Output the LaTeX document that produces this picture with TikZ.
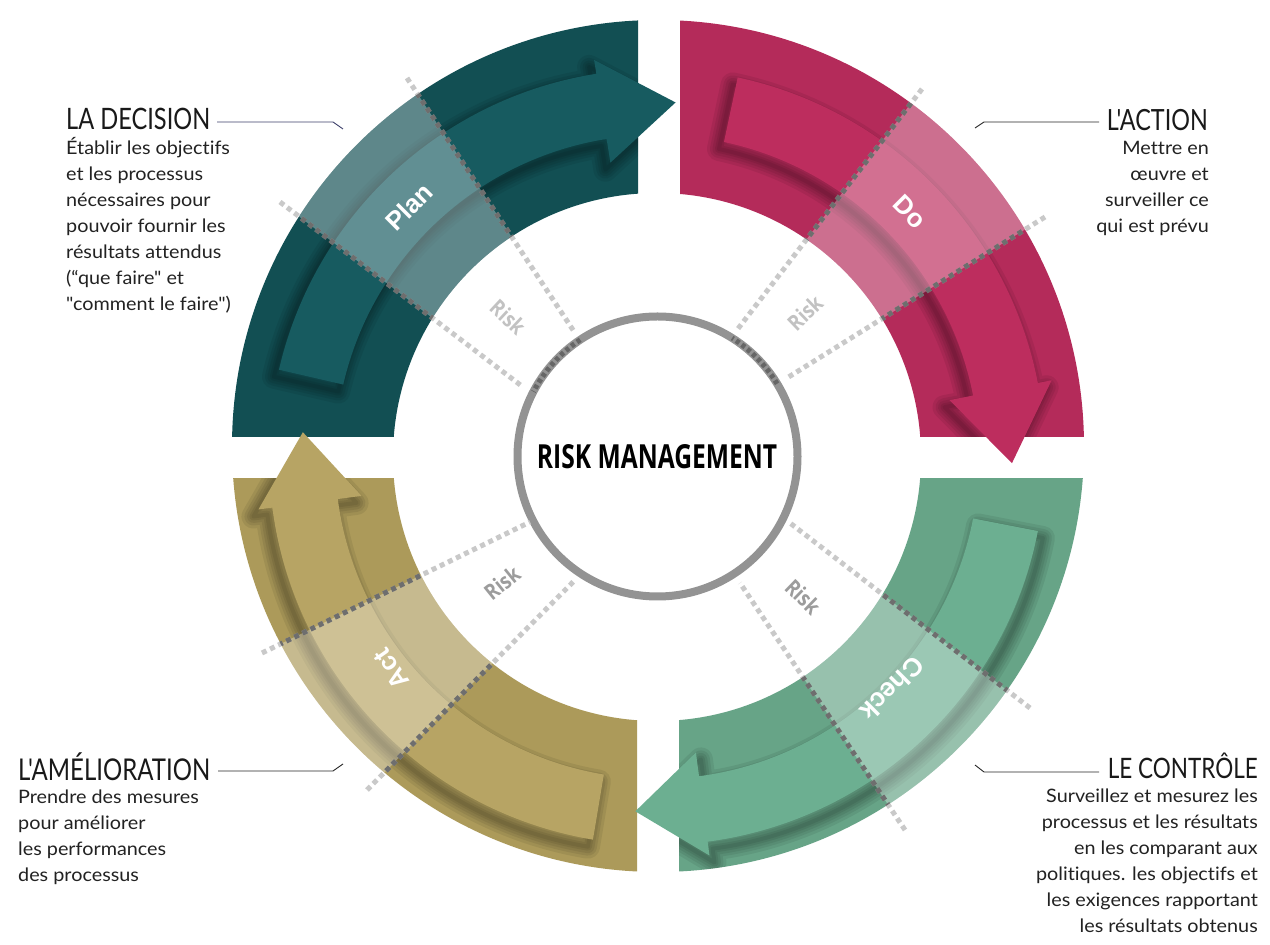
\documentclass[tikz,border=0pt]{standalone}
\usepackage{fontspec}
\usepackage{graphicx}
\setmainfont[Ligatures={TeXOff,NoCommon}]{Lato}
\newfontfamily\bodyfont[Ligatures={TeXOff,NoCommon},FakeStretch=1.07]{Lato}
\newfontfamily\headfont[FakeStretch=0.8,Ligatures={TeXOff,NoCommon}]{Lato}
\newfontfamily\riskfont[FakeStretch=0.85]{Open Sans}
\newfontfamily\labfont{Liberation Sans}
\newfontfamily\centerfont{Open Sans}

\definecolor{planring}{HTML}{124F53}
\definecolor{planarrow}{HTML}{175B60}
\definecolor{doring}{HTML}{B42B5A}
\definecolor{doarrow}{HTML}{BD2D5E}
\definecolor{checkring}{HTML}{67A487}
\definecolor{checkarrow}{HTML}{6CAF91}
\definecolor{actring}{HTML}{AC9A5A}
\definecolor{actarrow}{HTML}{B7A464}
\definecolor{dotgray}{HTML}{C9C9C9}
\definecolor{circgray}{HTML}{939393}
\definecolor{risktop}{HTML}{C2C2C2}
\definecolor{riskbot}{HTML}{9C9C9C}
\definecolor{bodytext}{HTML}{222222}
\definecolor{navyline}{HTML}{3C3F6A}

% annulus: outer circle counter-clockwise, inner circle clockwise (nonzero rule)
\newcommand\ringpath{(1084,499) arc[start angle=0, end angle=360, radius=426] (921,488) arc[start angle=360, end angle=0, radius=264]}
\newcommand\arrowshape[3]{(#1:388) arc[start angle=#1, end angle=#2, radius=388] -- (#2:402) -- (#3:355) -- (#2:298) -- (#2:322) arc[start angle=#2, end angle=#1, radius=322] -- cycle}
\newcommand\ringfill[2]{\begin{scope}\clip #1; \fill[#2] \ringpath; \end{scope}}
\newcommand\arrowshadow[5]{\begin{scope}\clip #1; \clip \ringpath;
  \begin{scope}[shift={#5}]
   \foreach \w in {24,18,13,8,4}{\draw[black, opacity=0.07, line width=\w pt, line join=round] \arrowshape{#2}{#3}{#4};}
  \end{scope}\end{scope}}
\newcommand\arrowfill[4]{\begin{scope}[shift={(657,488)}]\fill[#1] \arrowshape{#2}{#3}{#4};\end{scope}}
\newcommand\bandfill[2]{\begin{scope}\clip #1; \clip #2; \fill[white, opacity=0.32] \ringpath; \end{scope}}
\newcommand\linesL[1]{\vtop{\baselineskip=26pt \halign{##\hfil\cr #1\crcr}}}
\newcommand\linesR[1]{\vtop{\baselineskip=26pt \halign{\hfil##\cr #1\crcr}}}

\tikzset{
  riskline/.style={draw=dotgray, line width=5pt, dash pattern=on 5pt off 4pt},
  riskdark/.style={draw=black, opacity=0.45, line width=5pt, dash pattern=on 5pt off 4pt},
  phaselabel/.style={text=white, font=\labfont\bfseries\fontsize{26}{26}\selectfont, inner sep=0pt},
  risklabel/.style={font=\riskfont\bfseries\fontsize{22}{22}\selectfont, inner sep=0pt},
  heading/.style={font=\headfont\fontsize{30}{30}\selectfont, text=black!90, inner sep=0pt},
  bodyblock/.style={font=\bodyfont\fontsize{18.5}{26}\selectfont, text=bodytext, inner sep=0pt},
  leader/.style={draw=black!85, line width=0.9pt},
}

\begin{document}
\begin{tikzpicture}[x=1pt,y=1pt]
\useasboundingbox[fill=white] (0,0) rectangle (1270,945);

% rings
\ringfill{(0,508) rectangle (638,945)}{planring}
\ringfill{(680,508) rectangle (1270,945)}{doring}
\ringfill{(679,0) rectangle (1270,466)}{checkring}
\ringfill{(0,0) rectangle (637,466)}{actring}

% arrow shadows
\arrowshadow{(0,508) rectangle (638,945)}{167}{99}{87}{(652,481)}
\arrowshadow{(680,508) rectangle (1270,945)}{78}{11}{-1}{(652,481)}
\arrowshadow{(679,0) rectangle (1270,466)}{-11}{-82.5}{-93.5}{(662,481)}
\arrowshadow{(0,0) rectangle (637,466)}{260.5}{187.5}{176}{(652,481)}

% arrows
\arrowfill{planarrow}{167}{99}{87}
\arrowfill{doarrow}{78}{11}{-1}
\arrowfill{checkarrow}{-11}{-82.5}{-93.5}
\arrowfill{actarrow}{260.5}{187.5}{176}

% light bands
\bandfill{(0,508) rectangle (638,945)}{(407,867)--(575,612)--(523,558)--(280,743)--cycle}
\bandfill{(680,508) rectangle (1270,945)}{(922,856)--(737,615)--(787,567)--(1045,728)--cycle}
\bandfill{(679,0) rectangle (1270,466)}{(790,422)--(1030,237)--(905,115)--(740,362)--cycle}
\bandfill{(0,0) rectangle (637,466)}{(262,292)--(530,423)--(575,365)--(367,155)--cycle}

% centre circle
\coordinate (C) at (657.5,488.5);
\draw[circgray, line width=8pt] (C) circle[radius=140];

% risk lines
\coordinate (p1a) at (407,867); \coordinate (p1b) at (575,612);
\coordinate (p2a) at (280,743); \coordinate (p2b) at (523,558);
\coordinate (d1a) at (922,856); \coordinate (d1b) at (737,615);
\coordinate (d2a) at (1045,728); \coordinate (d2b) at (787,567);
\coordinate (c1a) at (1030,237); \coordinate (c1b) at (790,422);
\coordinate (c2a) at (905,115); \coordinate (c2b) at (740,362);
\coordinate (a1a) at (262,292); \coordinate (a1b) at (530,423);
\coordinate (a2a) at (367,155); \coordinate (a2b) at (575,365);
\foreach \s/\e in {p1a/p1b,p2a/p2b,d1a/d1b,d2a/d2b,c1a/c1b,c2a/c2b,a1a/a1b,a2a/a2b}
  \draw[riskline] (\s) -- (\e);
\begin{scope}
  \clip \ringpath;
  \foreach \s/\e in {p1a/p1b,p2a/p2b,d1a/d1b,d2a/d2b,c1a/c1b,c2a/c2b,a1a/a1b,a2a/a2b}
    \draw[riskdark] (\s) -- (\e);
\end{scope}
\draw[black, opacity=0.3, line width=5pt, dash pattern=on 4pt off 3pt] ([shift={(123.5:140)}]C) arc[start angle=123.5, end angle=152.4, radius=140];
\draw[black, opacity=0.3, line width=5pt, dash pattern=on 4pt off 3pt] ([shift={(31.3:140)}]C) arc[start angle=31.3, end angle=57.8, radius=140];

% centre title
\node[anchor=base, inner sep=0pt] (title) at (657,476) {\resizebox{240pt}{24pt}{\centerfont\bfseries RISK MANAGEMENT}};

% phase labels
\node[phaselabel, rotate=45] (lplan) at (409,738) {Plan};
\node[phaselabel, rotate=-45] (ldo) at (910,733) {Do};
\node[phaselabel, rotate=-135] (lcheck) at (892,256) {Check};
\node[phaselabel, rotate=125] (lact) at (391,276) {Act};

% risk labels
\node[risklabel, text=risktop, rotate=-43] (rplan) at (508,628) {Risk};
\node[risklabel, text=risktop, rotate=44] (rdo) at (805,632) {Risk};
\node[risklabel, text=riskbot, rotate=-44] (rcheck) at (803,348) {Risk};
\node[risklabel, text=riskbot, rotate=39] (ract) at (502,362) {Risk};

% headings
\node[heading, anchor=base west] (hdec) at (66,815) {\resizebox{144pt}{!}{LA DECISION}};
\node[heading, anchor=base east] (hact) at (1208,814) {\resizebox{101pt}{!}{L'ACTION}};
\node[heading, anchor=base west] (hame) at (18,164) {\resizebox{192pt}{!}{L'AMÉLIORATION}};
\node[heading, anchor=base east] (hcon) at (1258,166) {\resizebox{150pt}{!}{LE CONTRÔLE}};

% bodies
\node[bodyblock, anchor=base west] (bdec) at (66,790) {\linesL{Établir les objectifs\cr et les processus\cr nécessaires pour\cr pouvoir fournir les\cr résultats attendus\cr (“que faire" et\cr "comment le faire")}};
\node[bodyblock, anchor=base east] (bact) at (1209,790) {\linesR{Mettre en\cr œuvre et\cr surveiller ce\cr qui est prévu}};
\node[bodyblock, anchor=base west] (bame) at (18,141) {\linesL{Prendre des mesures\cr pour améliorer\cr les performances\cr des processus}};
\node[bodyblock, anchor=base east] (bcon) at (1258,142) {\linesR{Surveillez et mesurez les\cr processus et les résultats\cr en les comparant aux\cr politiques. les objectifs et\cr les exigences rapportant\cr les résultats obtenus}};

% leader lines
\coordinate (ldA) at (217,823); \coordinate (ldB) at (333,823); \coordinate (ldC) at (343,816);
\coordinate (laA) at (1099,823); \coordinate (laB) at (984,823); \coordinate (laC) at (975,817);
\coordinate (lmA) at (218,174); \coordinate (lmB) at (333,174); \coordinate (lmC) at (343,181);
\coordinate (lcA) at (1099,173); \coordinate (lcB) at (984,173); \coordinate (lcC) at (975,180);
\draw[leader, draw=navyline] (ldA) -- (ldB) -- (ldC);
\draw[leader] (laA) -- (laB) -- (laC);
\draw[leader] (lmA) -- (lmB) -- (lmC);
\draw[leader] (lcA) -- (lcB) -- (lcC);
\end{tikzpicture}
\end{document}
